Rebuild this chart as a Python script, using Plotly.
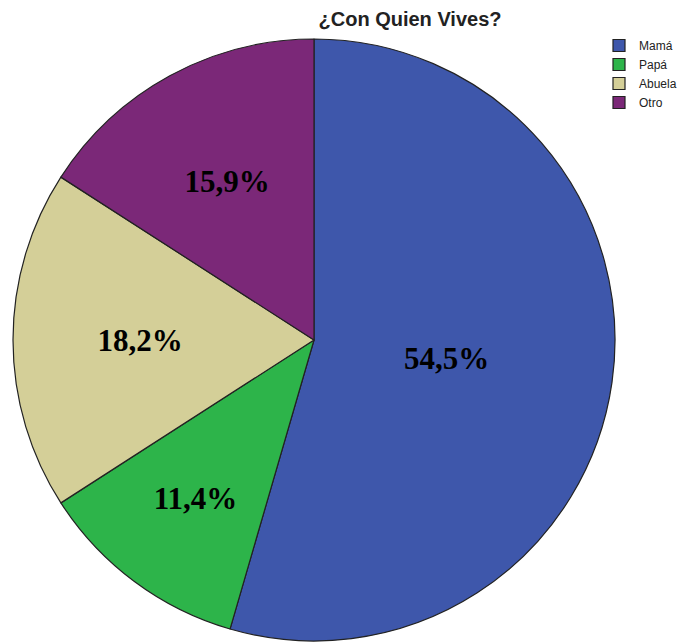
import plotly.graph_objects as go

labels = ["Mamá", "Papá", "Abuela", "Otro"]
values = [54.5, 11.4, 18.2, 15.9]
colors = ["#3E57AB", "#2DB44A", "#D4CF98", "#7B2878"]
text_labels = [f"{v:.1f}%".replace(".", ",") for v in values]

W, H = 681, 644
CX, CY, R = 314, 340, 301   # pie centre and radius in pixels
K = 0.89                    # label ring scale


def dom(scale):
    r = R * scale
    return dict(x=[(CX - r) / W, (CX + r) / W], y=[1 - (CY + r) / H, 1 - (CY - r) / H])


fig = go.Figure()
fig.add_trace(go.Pie(
    labels=labels, values=values, textinfo="none",
    sort=False, direction="clockwise", rotation=0,
    marker=dict(colors=colors, line=dict(color="#222222", width=1.2)),
    domain=dom(1.0), showlegend=True, hoverinfo="label+percent",
))
fig.add_trace(go.Pie(
    labels=labels, values=values, text=text_labels,
    textinfo="text", textposition="inside", insidetextorientation="horizontal",
    sort=False, direction="clockwise", rotation=0,
    marker=dict(colors=["rgba(0,0,0,0)"] * len(values), line=dict(width=0)),
    textfont=dict(family="Liberation Serif", size=31, color="black", weight="bold"),
    domain=dom(K), showlegend=False, hoverinfo="skip",
))
fig.update_layout(
    width=W, height=H, margin=dict(l=0, r=0, t=0, b=0, autoexpand=False),
    paper_bgcolor="white", plot_bgcolor="white",
    title=dict(text="¿Con Quien Vives?", x=410 / W, xanchor="center", y=1 - 19 / H, yanchor="middle",
               font=dict(family="Liberation Sans", size=20, color="#222222", weight="bold")),
    legend=dict(x=599 / W, y=1 - 31 / H, xanchor="left", yanchor="top",
                font=dict(family="Liberation Sans", size=12, color="#222222"),
                tracegroupgap=0, itemwidth=30, bgcolor="rgba(0,0,0,0)"),
)
fig.write_html("out.html", post_script="document.body.style.margin='0';",
               config={"displayModeBar": False})
